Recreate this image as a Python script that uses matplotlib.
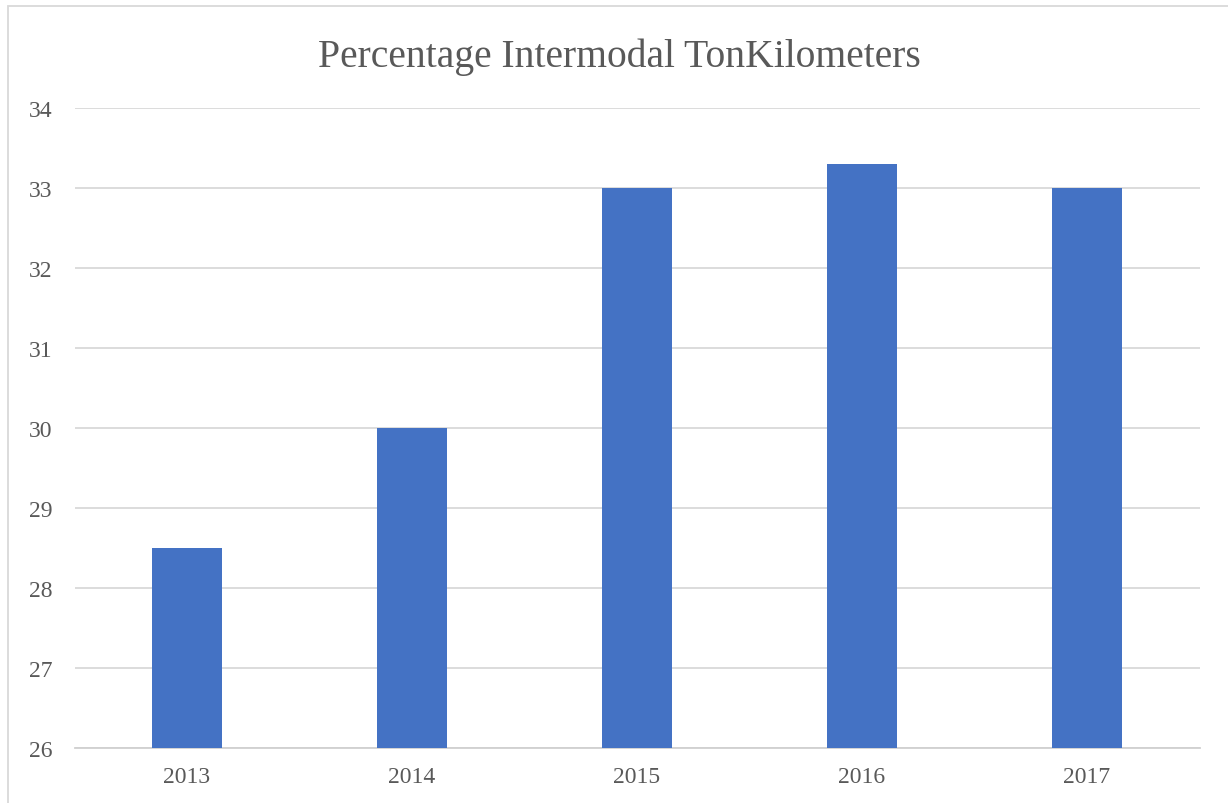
import matplotlib.pyplot as plt
from matplotlib.patches import Rectangle

years = ['2013', '2014', '2015', '2016', '2017']
percent = [28.5, 30.0, 33.0, 33.3, 33.0]

plt.rcParams['font.family'] = ['Liberation Serif', 'DejaVu Serif']

fig = plt.figure(figsize=(12.28, 8.04), dpi=100)
ax = fig.add_axes([74.5 / 1228, 55 / 804, 1125 / 1228, 640 / 804])

x = range(len(years))
ax.bar(x, percent, width=0.31, color='#4472c4', zorder=3)
ax.set_xlim(-0.5, len(years) - 0.5)
ax.set_ylim(26, 34)
ax.set_xticks(list(x))
ax.set_xticklabels(years)
ax.set_yticks(range(26, 35))
ax.tick_params(length=0, labelsize=17, colors='#595959')
ax.tick_params(axis='y', pad=16)
ax.tick_params(axis='x', pad=13)
ax.grid(axis='y', color='#d9d9d9', linewidth=1.3, zorder=0)
for s in ['top', 'right', 'left']:
    ax.spines[s].set_visible(False)
ax.spines['bottom'].set_color('#d0d0d0')
ax.spines['bottom'].set_linewidth(1.3)

fig.text(619 / 1228, 1 - 57 / 804, 'Percentage Intermodal TonKilometers',
         ha='center', va='center', fontsize=28.5, color='#595959')

# chart frame
fig.patches.append(Rectangle((8 / 1228, -0.1), 1.2, 1 - 7 / 804 + 0.1,
                             transform=fig.transFigure, fill=False,
                             edgecolor='#d9d9d9', linewidth=1.3))

fig.savefig('out.png', dpi=100)
